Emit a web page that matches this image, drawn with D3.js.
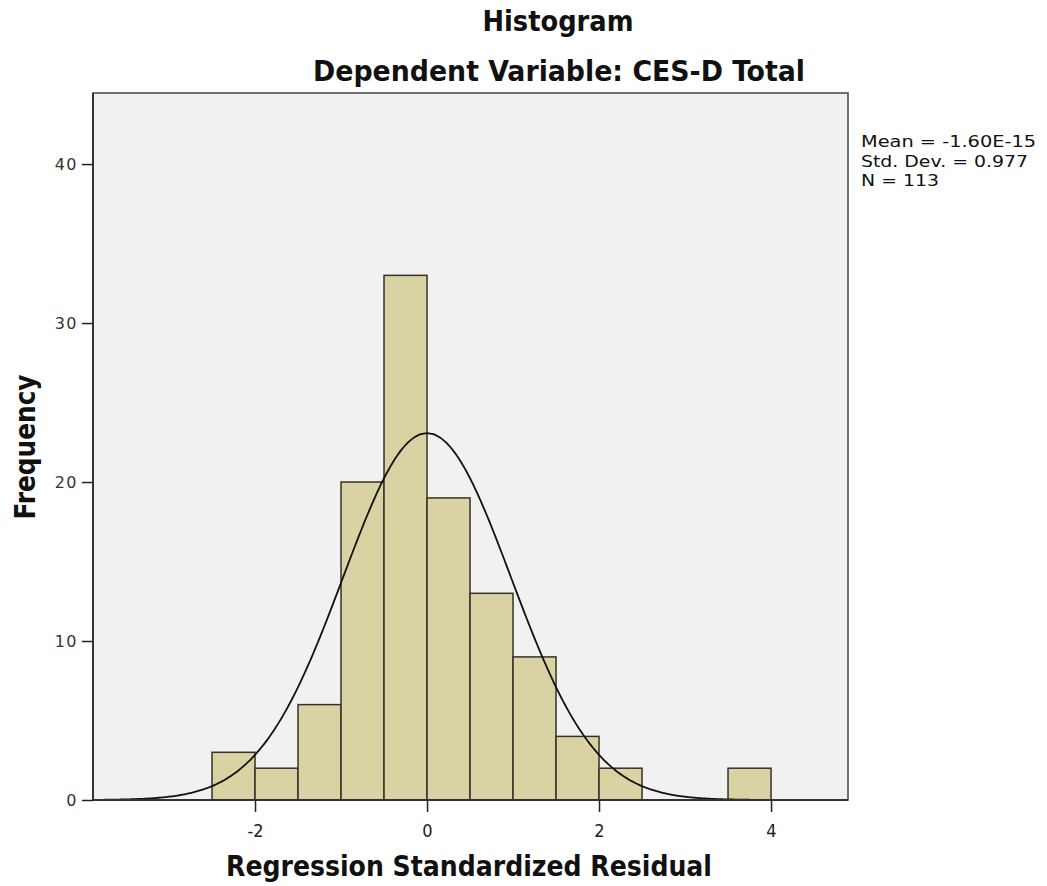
<!DOCTYPE html>
<html><head><meta charset="utf-8">
<script src="https://cdn.jsdelivr.net/npm/d3@7"></script>
<style>body{margin:0;background:#fff}</style>
</head><body><svg id="c" width="1047" height="886"></svg>
<script>
const binStarts = [-2.5,-2,-1.5,-1,-0.5,0,0.5,1,1.5,2,3.5];
const counts    = [3,2,6,20,33,19,13,9,4,2,2];
const binWidth = 0.5;
const xTicks = [-2,0,2,4];
const yTicks = [0,10,20,30,40];
const stats = {mean:-1.60e-15, sd:0.977, n:113};
const statLabels = ["Mean = -1.60E-15","Std. Dev. = 0.977","N = 113"];

const svg = d3.select("#c");
const L=93,R=848,T=93,B=800;
const x = d3.scaleLinear().domain([-3.884,4.895]).range([L,R]);
const y = d3.scaleLinear().domain([0,44.47]).range([B,T]);
const condensed = "'Liberation Sans Narrow','DejaVu Sans Condensed','Roboto Condensed',sans-serif";

svg.append("rect").attr("x",L).attr("y",T).attr("width",R-L).attr("height",B-T)
  .attr("fill","#f1f1f1").attr("stroke","#444").attr("stroke-width",1.5);

svg.append("g").selectAll("rect").data(binStarts).join("rect")
  .attr("x",(d)=>x(d)).attr("width",(d)=>x(d+binWidth)-x(d))
  .attr("y",(d,i)=>y(counts[i])).attr("height",(d,i)=>y(0)-y(counts[i]))
  .attr("fill","#d9d3a3").attr("stroke","#333328").attr("stroke-width",1.5);

// normal curve from stats
const pts = d3.range(-3.8,4.85,0.02).map(v=>[v, stats.n*binWidth/(stats.sd*Math.sqrt(2*Math.PI))*Math.exp(-0.5*Math.pow((v-stats.mean)/stats.sd,2))]);
svg.append("path").datum(pts).attr("fill","none").attr("stroke","#111").attr("stroke-width",1.8)
  .attr("d",d3.line().x(d=>x(d[0])).y(d=>y(d[1])).curve(d3.curveBasis));

// axes lines
svg.append("line").attr("x1",L).attr("x2",R).attr("y1",B).attr("y2",B).attr("stroke","#333").attr("stroke-width",2);
svg.append("line").attr("x1",L).attr("x2",L).attr("y1",T).attr("y2",B).attr("stroke","#333").attr("stroke-width",2);

const xa = svg.append("g").attr("transform",`translate(0,${B})`)
  .call(d3.axisBottom(x).tickValues(xTicks).tickSize(12).tickFormat(d=>String(d)));
xa.select(".domain").remove();
xa.selectAll("line").attr("stroke","#222").attr("stroke-width",1.5);
xa.selectAll("text").attr("font-family",condensed).attr("font-size",18).attr("fill","#222").attr("dy","1.2em");

const ya = svg.append("g").attr("transform",`translate(${L},0)`)
  .call(d3.axisLeft(y).tickValues(yTicks).tickSize(11));
ya.select(".domain").remove();
ya.selectAll("line").attr("stroke","#222").attr("stroke-width",1.5);
ya.selectAll("text").attr("font-family","'DejaVu Sans',sans-serif").attr("font-size",16).attr("fill","#333").attr("letter-spacing","1.5px").attr("dx","-1px");

function title(txt, xx, yy, len, rot){
  const t = svg.append("text").attr("text-anchor","middle")
    .attr("font-family",condensed).attr("font-weight","bold").attr("font-size",28)
    .attr("fill","#111").attr("textLength",len).attr("lengthAdjust","spacingAndGlyphs").text(txt);
  if (rot) t.attr("transform",`translate(${xx},${yy}) rotate(-90)`);
  else t.attr("x",xx).attr("y",yy);
}
title("Histogram",558,31,151);
title("Dependent Variable: CES-D Total",559,81,492);
title("Regression Standardized Residual",469,876,486);
title("Frequency",35,447,145,true);

svg.append("g").selectAll("text").data(statLabels).join("text")
  .attr("x",861).attr("y",(d,i)=>147+i*19.5)
  .attr("font-family","'DejaVu Sans',sans-serif").attr("font-size",16).attr("fill","#111")
  .attr("textLength",(d,i)=>[175,167,78][i]).attr("lengthAdjust","spacingAndGlyphs").text(d=>d);
</script></body></html>
